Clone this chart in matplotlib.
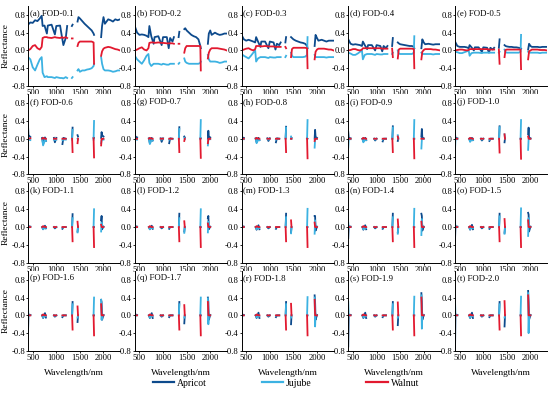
import numpy as np
import matplotlib
matplotlib.use('Agg')
import matplotlib.pyplot as plt

plt.rcParams['font.family'] = ['Liberation Serif', 'DejaVu Serif']

# wavelength grids (nm); gaps at the water bands are left out
wl_low = [400, 450, 500, 550, 600, 650, 690, 710, 750, 800, 820, 900, 970, 1000, 1080, 1120, 1150, 1200, 1230, 1330, 1345,
          1450, 1470, 1500, 1550, 1600, 1650, 1700, 1750, 1790, 1800,
          1950, 1970, 2000, 2030, 2100, 2150, 2200, 2250, 2300, 2350]
wl_high = [400, 410, 450, 550, 700, 720, 760, 780, 950, 970, 1000, 1130, 1150, 1200, 1335, 1345,
           1450, 1460, 1550, 1700, 1790, 1800,
           1950, 1960, 1970, 2000, 2100, 2200, 2350]

labels = ['(a) FOD-0.1', '(b) FOD-0.2', '(c) FOD-0.3', '(d) FOD-0.4', '(e) FOD-0.5',
          '(f) FOD-0.6', '(g) FOD-0.7', '(h) FOD-0.8', '(i) FOD-0.9', '(j) FOD-1.0',
          '(k) FOD-1.1', '(l) FOD-1.2', '(m) FOD-1.3', '(n) FOD-1.4', '(o) FOD-1.5',
          '(p) FOD-1.6', '(q) FOD-1.7', '(r) FOD-1.8', '(s) FOD-1.9', '(t) FOD-2.0']

# low orders (a)-(e), on wl_low
apricot_low = [
    [0.58, 0.63, 0.62, 0.68, 0.66, 0.72, 0.78, 0.55, 0.56, 0.38, 0.56, 0.58, 0.36, 0.55, 0.56, 0.3, 0.12, 0.28, 0.55, 0.55, 0.58,
     0.65, 0.75, 0.72, 0.66, 0.6, 0.55, 0.5, 0.45, 0.38, 0.35,
     0.3, 0.55, 0.75, 0.6, 0.7, 0.68, 0.65, 0.7, 0.68, 0.7],
    [0.55, 0.4, 0.35, 0.36, 0.35, 0.33, 0.3, 0.55, 0.32, 0.15, 0.3, 0.32, 0.12, 0.3, 0.3, 0.05, 0.28, 0.2, 0.3, 0.3, 0.42,
     0.48, 0.5, 0.45, 0.4, 0.35, 0.32, 0.3, 0.25, 0.1, 0.05,
     0.15, 0.38, 0.45, 0.35, 0.4, 0.37, 0.35, 0.36, 0.38, 0.38],
    [0.35, 0.25, 0.22, 0.24, 0.22, 0.2, 0.18, 0.3, 0.2, 0.08, 0.2, 0.2, 0.05, 0.2, 0.18, 0.02, 0.15, 0.12, 0.18, 0.18, 0.3,
     0.3, 0.28, 0.25, 0.22, 0.2, 0.18, 0.17, 0.15, 0.1, 0.05,
     0.1, 0.35, 0.28, 0.22, 0.24, 0.22, 0.2, 0.22, 0.22, 0.22],
    [0.25, 0.15, 0.13, 0.14, 0.13, 0.12, 0.1, 0.2, 0.12, 0.03, 0.12, 0.12, 0.0, 0.12, 0.1, -0.02, 0.1, 0.05, 0.1, 0.1, 0.28,
     0.18, 0.16, 0.14, 0.13, 0.12, 0.11, 0.1, 0.1, 0.08, 0.05,
     0.05, 0.25, 0.18, 0.14, 0.15, 0.14, 0.13, 0.14, 0.14, 0.14],
    [0.2, 0.1, 0.08, 0.08, 0.08, 0.07, 0.05, 0.12, 0.07, 0.0, 0.07, 0.07, -0.03, 0.07, 0.06, -0.05, 0.06, 0.02, 0.06, 0.06, 0.25,
     0.12, 0.1, 0.09, 0.08, 0.08, 0.07, 0.07, 0.06, 0.05, 0.04,
     0.02, 0.15, 0.1, 0.08, 0.08, 0.08, 0.07, 0.08, 0.08, 0.08],
]
jujube_low = [
    [-0.15, -0.2, -0.38, -0.45, -0.32, -0.2, -0.15, -0.5, -0.6, -0.58, -0.6, -0.6, -0.62, -0.6, -0.62, -0.62, -0.63, -0.6, -0.62, -0.62, -0.6,
     -0.45, -0.42, -0.48, -0.45, -0.45, -0.43, -0.42, -0.4, -0.35, -0.3,
     -0.15, -0.3, -0.42, -0.45, -0.45, -0.46, -0.48, -0.47, -0.45, -0.45],
    [-0.12, -0.2, -0.25, -0.3, -0.22, -0.12, -0.08, -0.28, -0.35, -0.3, -0.3, -0.3, -0.32, -0.3, -0.32, -0.32, -0.3, -0.3, -0.3, -0.3, -0.28,
     -0.18, -0.25, -0.28, -0.3, -0.3, -0.3, -0.3, -0.3, -0.28, -0.25,
     -0.1, -0.2, -0.25, -0.25, -0.25, -0.26, -0.28, -0.27, -0.25, -0.25],
    [-0.08, -0.12, -0.15, -0.18, -0.12, -0.05, 0.0, -0.25, -0.18, -0.15, -0.15, -0.15, -0.17, -0.15, -0.16, -0.16, -0.15, -0.15, -0.15, -0.15, -0.12,
     -0.05, -0.12, -0.15, -0.15, -0.15, -0.15, -0.15, -0.14, -0.1, 0.3,
     -0.1, -0.15, -0.15, -0.15, -0.15, -0.15, -0.16, -0.15, -0.15, -0.15],
    [-0.05, -0.07, -0.1, -0.1, -0.07, -0.03, 0.0, -0.2, -0.1, -0.08, -0.08, -0.08, -0.1, -0.08, -0.09, -0.09, -0.08, -0.08, -0.08, -0.08, -0.05,
     0.0, -0.07, -0.08, -0.08, -0.08, -0.08, -0.08, -0.08, -0.05, 0.32,
     -0.05, -0.08, -0.08, -0.08, -0.08, -0.08, -0.09, -0.08, -0.08, -0.08],
    [-0.03, -0.04, -0.06, -0.06, -0.04, -0.02, 0.0, -0.12, -0.06, -0.05, -0.05, -0.05, -0.06, -0.05, -0.05, -0.05, -0.05, -0.05, -0.05, -0.05, -0.03,
     0.02, -0.04, -0.05, -0.05, -0.05, -0.05, -0.05, -0.05, -0.03, 0.35,
     -0.03, -0.05, -0.05, -0.05, -0.05, -0.05, -0.06, -0.05, -0.05, -0.05],
]
walnut_low = [
    [0.0, 0.03, 0.1, 0.12, 0.05, 0.02, 0.08, 0.28, 0.3, 0.3, 0.29, 0.28, 0.3, 0.29, 0.28, 0.3, 0.28, 0.3, 0.28, 0.27, 0.27,
     0.1, 0.17, 0.2, 0.2, 0.2, 0.2, 0.2, 0.2, 0.18, -0.3,
     -0.12, -0.02, 0.04, 0.06, 0.08, 0.07, 0.05, 0.03, 0.02, 0.0],
    [0.0, 0.02, 0.05, 0.07, 0.02, 0.0, 0.05, 0.17, 0.18, 0.18, 0.17, 0.18, 0.17, 0.17, 0.16, 0.16, 0.16, 0.16, 0.15, 0.15, 0.15,
     -0.05, 0.05, 0.1, 0.1, 0.1, 0.1, 0.1, 0.1, 0.1, -0.45,
     -0.18, -0.05, 0.02, 0.05, 0.05, 0.05, 0.04, 0.03, 0.02, 0.0],
    [0.0, 0.02, 0.04, 0.05, 0.02, 0.0, 0.03, 0.1, 0.1, 0.1, 0.09, 0.1, 0.09, 0.09, 0.09, 0.08, 0.08, 0.08, 0.08, 0.08, 0.05,
     -0.15, 0.03, 0.06, 0.06, 0.06, 0.06, 0.06, 0.06, 0.05, -0.4,
     -0.2, -0.03, 0.02, 0.04, 0.04, 0.04, 0.03, 0.02, 0.02, 0.0],
    [0.0, 0.01, 0.03, 0.03, 0.01, 0.0, 0.02, 0.05, 0.05, 0.05, 0.05, 0.05, 0.05, 0.05, 0.05, 0.04, 0.04, 0.04, 0.04, 0.04, -0.15,
     -0.18, 0.02, 0.04, 0.04, 0.04, 0.04, 0.04, 0.04, 0.03, -0.4,
     -0.2, -0.03, 0.01, 0.03, 0.03, 0.03, 0.02, 0.02, 0.01, 0.0],
    [0.0, 0.01, 0.02, 0.02, 0.01, 0.0, 0.01, 0.03, 0.03, 0.03, 0.03, 0.03, 0.03, 0.03, 0.03, 0.02, 0.02, 0.02, 0.02, 0.02, -0.3,
     -0.15, 0.01, 0.02, 0.02, 0.02, 0.02, 0.02, 0.02, 0.02, -0.42,
     -0.2, -0.02, 0.0, 0.02, 0.02, 0.02, 0.01, 0.01, 0.01, 0.0],
]

# high orders (f)-(t), on wl_high
apricot_high = [
    [0.3, 0.08, 0.04, 0.03, 0.02, -0.12, 0.03, -0.05, 0.02, -0.08, 0.02, -0.12, 0.02, 0.0, 0.02, 0.25, 0.08, 0.05, 0.04, 0.03, 0.02, 0.02, 0.02, 0.15, 0.08, 0.05, 0.04, 0.03, 0.03],
    [0.25, 0.05, 0.03, 0.02, 0.01, -0.1, 0.02, -0.04, 0.01, -0.07, 0.01, -0.1, 0.01, 0.0, 0.01, 0.26, 0.05, 0.03, 0.02, 0.02, 0.01, 0.01, 0.0, 0.18, 0.05, 0.03, 0.02, 0.02, 0.02],
    [0.2, 0.03, 0.02, 0.01, 0.01, -0.08, 0.02, -0.03, 0.01, -0.05, 0.01, -0.08, 0.01, 0.0, 0.01, 0.27, 0.0, 0.02, 0.01, 0.01, 0.01, 0.0, 0.0, 0.2, 0.04, 0.02, 0.01, 0.01, 0.01],
    [0.15, 0.02, 0.01, 0.01, 0.0, -0.06, 0.02, -0.03, 0.0, -0.04, 0.0, -0.06, 0.0, 0.0, 0.0, 0.28, -0.05, 0.01, 0.0, 0.0, 0.0, 0.0, 0.05, 0.22, 0.03, 0.01, 0.01, 0.01, 0.01],
    [0.1, 0.02, 0.01, 0.0, 0.0, -0.05, 0.02, -0.03, 0.0, -0.04, 0.0, -0.05, 0.0, 0.0, 0.0, 0.28, -0.08, 0.01, 0.0, 0.0, 0.0, 0.0, 0.1, 0.25, 0.03, 0.01, 0.0, 0.0, 0.0],
    [-0.05, 0.02, 0.01, 0.0, 0.0, -0.05, 0.03, -0.03, 0.0, -0.03, 0.0, -0.04, 0.0, 0.0, 0.0, 0.29, -0.1, 0.01, 0.0, 0.0, 0.0, 0.0, 0.15, 0.25, -0.05, 0.01, 0.0, 0.0, 0.0],
    [-0.1, 0.02, 0.01, 0.0, 0.0, -0.05, 0.03, -0.04, 0.0, -0.03, 0.0, -0.04, 0.0, 0.0, 0.0, 0.3, -0.1, 0.0, 0.0, 0.0, 0.0, 0.0, 0.2, 0.25, -0.05, 0.01, 0.0, 0.0, 0.0],
    [-0.2, 0.02, 0.01, 0.0, 0.0, -0.06, 0.04, -0.05, 0.0, -0.03, 0.0, -0.04, 0.0, 0.0, 0.0, 0.3, -0.12, 0.0, 0.0, 0.0, 0.0, 0.0, 0.25, 0.25, -0.08, 0.01, 0.0, 0.0, 0.0],
    [-0.25, 0.02, 0.01, 0.0, 0.0, -0.06, 0.04, -0.05, 0.0, -0.03, 0.0, -0.04, 0.0, 0.0, 0.0, 0.3, -0.12, 0.0, 0.0, 0.0, 0.0, 0.0, 0.3, 0.25, -0.08, 0.01, 0.0, 0.0, 0.0],
    [-0.3, 0.02, 0.01, 0.0, 0.0, -0.06, 0.05, -0.05, 0.0, -0.03, 0.0, -0.04, 0.0, 0.0, 0.0, 0.3, -0.13, 0.0, 0.0, 0.0, 0.0, 0.0, 0.32, 0.28, -0.1, 0.01, 0.0, 0.0, 0.0],
    [-0.4, 0.02, 0.01, 0.0, 0.0, -0.06, 0.05, -0.05, 0.0, -0.03, 0.0, -0.04, 0.0, 0.0, 0.0, 0.3, -0.15, 0.0, 0.0, 0.0, 0.0, 0.0, 0.35, 0.3, -0.1, 0.01, 0.0, 0.0, 0.0],
    [-0.5, 0.02, 0.01, 0.0, 0.0, -0.06, 0.05, -0.06, 0.0, -0.03, 0.0, -0.04, 0.0, 0.0, 0.0, 0.3, -0.18, 0.0, 0.0, 0.0, 0.0, 0.0, 0.4, 0.3, -0.1, 0.01, 0.0, 0.0, 0.0],
    [-0.6, 0.02, 0.01, 0.0, 0.0, -0.06, 0.06, -0.06, 0.0, -0.03, 0.0, -0.04, 0.0, 0.0, 0.0, 0.3, -0.2, 0.0, 0.0, 0.0, 0.0, 0.0, 0.45, 0.3, -0.1, 0.01, 0.0, 0.0, 0.0],
    [-0.7, 0.02, 0.01, 0.0, 0.0, -0.06, 0.06, -0.06, 0.0, -0.03, 0.0, -0.04, 0.0, 0.0, 0.0, 0.3, -0.22, 0.0, 0.0, 0.0, 0.0, 0.0, 0.5, 0.3, -0.1, 0.01, 0.0, 0.0, 0.0],
    [-0.8, 0.02, 0.01, 0.0, 0.0, -0.06, 0.06, -0.06, 0.0, -0.03, 0.0, -0.04, 0.0, 0.0, 0.0, 0.3, -0.25, 0.0, 0.0, 0.0, 0.0, 0.0, 0.55, 0.3, -0.1, 0.01, 0.0, 0.0, 0.0],
]
jujube_high = [
    [-0.05, -0.02, -0.03, -0.02, 0.0, -0.15, -0.02, -0.05, -0.02, -0.03, -0.02, -0.03, -0.02, -0.02, -0.02, 0.2, 0.0, -0.02, -0.02, -0.02, -0.02, 0.4, -0.1, -0.03, -0.02, -0.02, -0.02, -0.02, -0.02],
    [-0.1, -0.02, -0.02, -0.01, 0.0, -0.12, -0.01, -0.04, -0.01, -0.02, -0.01, -0.02, -0.01, -0.01, -0.01, 0.22, 0.02, -0.01, -0.01, -0.01, -0.01, 0.42, -0.15, -0.02, -0.01, -0.01, -0.01, -0.01, -0.01],
    [-0.15, -0.01, -0.01, -0.01, 0.0, -0.1, -0.01, -0.03, 0.0, -0.02, 0.0, -0.02, 0.0, 0.0, 0.0, 0.25, 0.05, 0.0, 0.0, 0.0, 0.0, 0.42, -0.2, -0.02, 0.0, 0.0, 0.0, 0.0, 0.0],
    [-0.2, -0.01, -0.01, 0.0, 0.0, -0.08, -0.01, -0.03, 0.0, -0.02, 0.0, -0.02, 0.0, 0.0, 0.0, 0.25, 0.08, 0.0, 0.0, 0.0, 0.0, 0.42, -0.22, -0.02, 0.0, 0.0, 0.0, 0.0, 0.0],
    [-0.25, -0.01, -0.01, 0.0, 0.0, -0.07, -0.01, -0.03, 0.0, -0.02, 0.0, -0.02, 0.0, 0.0, 0.0, 0.26, 0.1, 0.0, 0.0, 0.0, 0.0, 0.42, -0.25, -0.02, 0.0, 0.0, 0.0, 0.0, 0.0],
    [0.05, -0.01, 0.0, 0.0, 0.0, -0.05, -0.01, -0.02, 0.0, -0.01, 0.0, -0.01, 0.0, 0.0, 0.0, 0.2, -0.12, 0.0, 0.0, 0.0, 0.0, 0.4, -0.1, 0.1, 0.02, 0.0, 0.0, 0.0, 0.0],
    [0.05, -0.01, 0.0, 0.0, 0.0, -0.05, -0.01, -0.02, 0.0, -0.01, 0.0, -0.01, 0.0, 0.0, 0.0, 0.2, -0.13, 0.0, 0.0, 0.0, 0.0, 0.4, -0.12, 0.12, 0.02, 0.0, 0.0, 0.0, 0.0],
    [0.08, -0.01, 0.0, 0.0, 0.0, -0.05, -0.01, -0.02, 0.0, -0.01, 0.0, -0.01, 0.0, 0.0, 0.0, 0.22, -0.14, 0.0, 0.0, 0.0, 0.0, 0.41, -0.15, 0.15, 0.02, 0.0, 0.0, 0.0, 0.0],
    [0.1, -0.01, 0.0, 0.0, 0.0, -0.05, -0.01, -0.02, 0.0, -0.01, 0.0, -0.01, 0.0, 0.0, 0.0, 0.22, -0.15, 0.0, 0.0, 0.0, 0.0, 0.41, -0.18, 0.18, 0.02, 0.0, 0.0, 0.0, 0.0],
    [0.12, -0.01, 0.0, 0.0, 0.0, -0.05, -0.01, -0.02, 0.0, -0.01, 0.0, -0.01, 0.0, 0.0, 0.0, 0.24, -0.15, 0.0, 0.0, 0.0, 0.0, 0.42, -0.2, 0.2, 0.02, 0.0, 0.0, 0.0, 0.0],
    [0.15, -0.01, 0.0, 0.0, 0.0, -0.05, -0.01, -0.02, 0.0, -0.01, 0.0, -0.01, 0.0, 0.0, 0.0, 0.25, -0.05, 0.0, 0.0, 0.0, 0.0, 0.4, 0.35, -0.1, 0.02, 0.0, 0.0, 0.0, 0.0],
    [0.2, -0.01, 0.0, 0.0, 0.0, -0.05, -0.01, -0.02, 0.0, -0.01, 0.0, -0.01, 0.0, 0.0, 0.0, 0.25, -0.05, 0.0, 0.0, 0.0, 0.0, 0.4, 0.38, -0.2, 0.02, 0.0, 0.0, 0.0, 0.0],
    [0.25, -0.01, 0.0, 0.0, 0.0, -0.05, -0.01, -0.02, 0.0, -0.01, 0.0, -0.01, 0.0, 0.0, 0.0, 0.25, -0.05, 0.0, 0.0, 0.0, 0.0, 0.41, 0.4, -0.25, 0.02, 0.0, 0.0, 0.0, 0.0],
    [0.3, -0.01, 0.0, 0.0, 0.0, -0.05, -0.01, -0.02, 0.0, -0.01, 0.0, -0.01, 0.0, 0.0, 0.0, 0.25, -0.05, 0.0, 0.0, 0.0, 0.0, 0.42, 0.45, -0.3, 0.02, 0.0, 0.0, 0.0, 0.0],
    [0.35, -0.01, 0.0, 0.0, 0.0, -0.05, -0.01, -0.02, 0.0, -0.01, 0.0, -0.01, 0.0, 0.0, 0.0, 0.25, -0.05, 0.0, 0.0, 0.0, 0.0, 0.42, 0.5, -0.4, 0.02, 0.0, 0.0, 0.0, 0.0],
]
walnut_high = [
    [0.0, 0.0, 0.01, 0.01, 0.0, 0.02, 0.0, 0.0, 0.0, 0.0, 0.0, 0.0, 0.0, 0.0, 0.0, -0.3, -0.1, 0.0, 0.01, 0.01, 0.01, -0.42, -0.15, 0.0, 0.0, 0.0, 0.0, 0.0, 0.0],
    [0.0, 0.0, 0.0, 0.0, 0.0, 0.02, 0.0, 0.0, 0.0, 0.0, 0.0, 0.0, 0.0, 0.0, 0.0, -0.3, -0.05, 0.0, 0.0, 0.0, 0.0, -0.43, -0.1, 0.0, 0.0, 0.0, 0.0, 0.0, 0.0],
    [0.0, 0.0, 0.0, 0.0, 0.0, 0.02, 0.0, 0.0, 0.0, 0.0, 0.0, 0.0, 0.0, 0.0, 0.0, -0.3, 0.0, 0.0, 0.0, 0.0, 0.0, -0.44, -0.05, 0.0, 0.0, 0.0, 0.0, 0.0, 0.0],
    [0.0, 0.0, 0.0, 0.0, 0.0, 0.02, 0.0, 0.0, 0.0, 0.0, 0.0, 0.0, 0.0, 0.0, 0.0, -0.3, 0.05, 0.0, 0.0, 0.0, 0.0, -0.44, 0.0, 0.0, 0.0, 0.0, 0.0, 0.0, 0.0],
    [0.0, 0.0, 0.0, 0.0, 0.0, 0.02, 0.0, 0.0, 0.0, 0.0, 0.0, 0.0, 0.0, 0.0, 0.0, -0.31, 0.1, 0.0, 0.0, 0.0, 0.0, -0.45, 0.05, 0.0, 0.0, 0.0, 0.0, 0.0, 0.0],
    [0.0, 0.0, 0.0, 0.0, 0.0, 0.02, 0.0, 0.0, 0.0, 0.0, 0.0, 0.0, 0.0, 0.0, 0.0, -0.32, 0.12, 0.0, 0.0, 0.0, 0.0, -0.45, 0.05, 0.0, 0.0, 0.0, 0.0, 0.0, 0.0],
    [0.0, 0.0, 0.0, 0.0, 0.0, 0.02, 0.0, 0.0, 0.0, 0.0, 0.0, 0.0, 0.0, 0.0, 0.0, -0.32, 0.13, 0.0, 0.0, 0.0, 0.0, -0.45, 0.08, 0.0, 0.0, 0.0, 0.0, 0.0, 0.0],
    [0.0, 0.0, 0.0, 0.0, 0.0, 0.02, 0.0, 0.0, 0.0, 0.0, 0.0, 0.0, 0.0, 0.0, 0.0, -0.32, 0.15, 0.0, 0.0, 0.0, 0.0, -0.45, 0.1, 0.0, 0.0, 0.0, 0.0, 0.0, 0.0],
    [0.0, 0.0, 0.0, 0.0, 0.0, 0.02, 0.0, 0.0, 0.0, 0.0, 0.0, 0.0, 0.0, 0.0, 0.0, -0.32, 0.17, 0.0, 0.0, 0.0, 0.0, -0.45, 0.12, 0.0, 0.0, 0.0, 0.0, 0.0, 0.0],
    [0.0, 0.0, 0.0, 0.0, 0.0, 0.02, 0.0, 0.0, 0.0, 0.0, 0.0, 0.0, 0.0, 0.0, 0.0, -0.32, 0.18, 0.0, 0.0, 0.0, 0.0, -0.45, 0.15, 0.0, 0.0, 0.0, 0.0, 0.0, 0.0],
    [0.0, 0.0, 0.0, 0.0, 0.0, 0.02, 0.0, 0.0, 0.0, 0.0, 0.0, 0.0, 0.0, 0.0, 0.0, -0.32, 0.2, 0.0, 0.0, 0.0, 0.0, -0.45, 0.25, 0.0, 0.0, 0.0, 0.0, 0.0, 0.0],
    [0.0, 0.0, 0.0, 0.0, 0.0, 0.02, 0.0, 0.0, 0.0, 0.0, 0.0, 0.0, 0.0, 0.0, 0.0, -0.32, 0.23, 0.0, 0.0, 0.0, 0.0, -0.45, 0.3, 0.0, 0.0, 0.0, 0.0, 0.0, 0.0],
    [0.0, 0.0, 0.0, 0.0, 0.0, 0.02, 0.0, 0.0, 0.0, 0.0, 0.0, 0.0, 0.0, 0.0, 0.0, -0.32, 0.26, 0.0, 0.0, 0.0, 0.0, -0.45, 0.35, 0.0, 0.0, 0.0, 0.0, 0.0, 0.0],
    [0.0, 0.0, 0.0, 0.0, 0.0, 0.02, 0.0, 0.0, 0.0, 0.0, 0.0, 0.0, 0.0, 0.0, 0.0, -0.32, 0.29, 0.0, 0.0, 0.0, 0.0, -0.45, 0.4, 0.0, 0.0, 0.0, 0.0, 0.0, 0.0],
    [0.0, 0.0, 0.0, 0.0, 0.0, 0.02, 0.0, 0.0, 0.0, 0.0, 0.0, 0.0, 0.0, 0.0, 0.0, -0.32, 0.32, 0.0, 0.0, 0.0, 0.0, -0.45, 0.45, 0.0, 0.0, 0.0, 0.0, 0.0, 0.0],
]

colors = {'Apricot': '#0d4a8c', 'Jujube': '#3cb2e2', 'Walnut': '#e2192f'}


def with_gaps(wl, vals):
    # put NaN in the water-band gaps so the line breaks there
    x, y = [], []
    for i in range(len(wl)):
        if i > 0 and wl[i] - wl[i - 1] > 80:
            x.append(np.nan)
            y.append(np.nan)
        x.append(wl[i])
        y.append(vals[i])
    return x, y


fig = plt.figure(figsize=(5.5, 3.97), dpi=100)
W, H = 550, 397
for k in range(20):
    r, c = divmod(k, 5)
    left = 28 + c * 106.75
    top = 6 + r * 88.3
    ax = fig.add_axes([left / W, 1 - (top + 80) / H, 92 / W, 80 / H])

    if k < 5:
        wl = wl_low
        series = [apricot_low[k], jujube_low[k], walnut_low[k]]
    else:
        wl = wl_high
        series = [apricot_high[k - 5], jujube_high[k - 5], walnut_high[k - 5]]

    for name, vals in zip(colors, series):
        x, y = with_gaps(wl, vals)
        ax.plot(x, y, color=colors[name], lw=1.3, label=name)

    ax.set_xlim(400, 2350)
    ax.set_ylim(-0.8, 1.0)
    ax.set_xticks([500, 1000, 1500, 2000])
    ax.set_yticks([-0.8, -0.4, 0.0, 0.4, 0.8])
    ax.set_yticklabels(['-0.8', '-0.4', '0.0', '0.4', '0.8'])
    ax.spines['top'].set_visible(False)
    ax.spines['right'].set_visible(False)
    ax.tick_params(labelsize=6.2, length=1.5, width=0.6, pad=0.6)
    for s in ['left', 'bottom']:
        ax.spines[s].set_linewidth(0.7)
    ax.text(0.02, 0.955, labels[k], transform=ax.transAxes, fontsize=6.3, va='top', ha='left')

    if c == 0:
        ax.set_ylabel('Reflectance', fontsize=6.8, labelpad=1.5)
    if r == 3:
        ax.set_xlabel('Wavelength/nm', fontsize=6.8, labelpad=5)

handles, names = ax.get_legend_handles_labels()
leg = fig.legend(handles, names, loc='center', bbox_to_anchor=(0.52, 0.035), ncol=3, frameon=False,
                 fontsize=7, handlelength=2.2, handletextpad=0.3, columnspacing=5.6)
for line in leg.get_lines():
    line.set_linewidth(1.6)

fig.savefig('out.png', dpi=100)
